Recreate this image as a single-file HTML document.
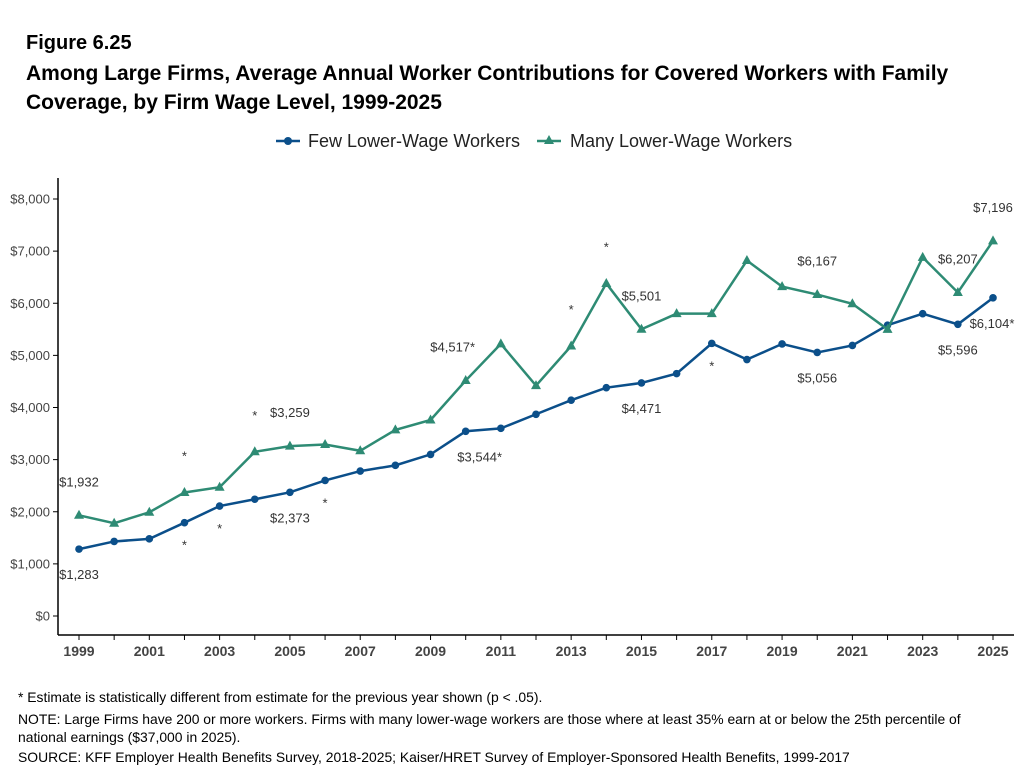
<!DOCTYPE html>
<html><head><meta charset="utf-8"><style>
body{margin:0;background:#fff;font-family:"Liberation Sans",Arial,sans-serif;}
#wrap{position:relative;width:1023px;height:770px;overflow:hidden;}
.t{position:absolute;left:26px;font-weight:bold;font-size:21px;color:#000;}
.note{position:absolute;left:18px;font-size:13.9px;color:#000;}
</style></head><body>
<div id="wrap">
<div class="t" style="top:32px;font-size:20px">Figure 6.25</div>
<div class="t" style="top:59px;line-height:29px;width:980px">Among Large Firms, Average Annual Worker Contributions for Covered Workers with Family<br>Coverage, by Firm Wage Level, 1999-2025</div>
<svg id="c" width="1023" height="770" style="position:absolute;left:0;top:0"></svg>
<div class="note" style="top:689px">* Estimate is statistically different from estimate for the previous year shown (p &lt; .05).</div>
<div class="note" style="top:710px;line-height:18px;width:1003px">NOTE: Large Firms have 200 or more workers. Firms with many lower-wage workers are those where at least 35% earn at or below the 25th percentile of<br>national earnings ($37,000 in 2025).</div>
<div class="note" style="top:749px">SOURCE: KFF Employer Health Benefits Survey, 2018-2025; Kaiser/HRET Survey of Employer-Sponsored Health Benefits, 1999-2017</div>
</div>
<script>
const years=[1999,2000,2001,2002,2003,2004,2005,2006,2007,2008,2009,2010,2011,2012,2013,2014,2015,2016,2017,2018,2019,2020,2021,2022,2023,2024,2025];
const few=[1283,1430,1480,1790,2110,2240,2373,2600,2780,2890,3100,3544,3600,3870,4140,4380,4471,4650,5230,4920,5220,5056,5190,5580,5800,5596,6104];
const many=[1932,1780,1990,2370,2470,3150,3259,3290,3170,3570,3760,4517,5220,4420,5180,6380,5501,5800,5800,6820,6320,6167,5990,5500,6880,6207,7196];
const yTicks=[0,1000,2000,3000,4000,5000,6000,7000,8000];
const xTickYears=[1999,2001,2003,2005,2007,2009,2011,2013,2015,2017,2019,2021,2023,2025];
const fewLabels=[[1999,"$1,283"],[2005,"$2,373"],[2010,"$3,544*"],[2015,"$4,471"],[2020,"$5,056"],[2024,"$5,596"],[2025,"$6,104*"]];
const manyLabels=[[1999,"$1,932"],[2005,"$3,259"],[2010,"$4,517*"],[2015,"$5,501"],[2020,"$6,167"],[2024,"$6,207"],[2025,"$7,196"]];
const fewStars=[2002,2003,2006,2017];
const manyStars=[2002,2004,2013,2014];
const svg=document.getElementById('c');const NS="http://www.w3.org/2000/svg";
const x=yr=>79+(yr-1999)*(993-79)/26;
const y=v=>616-v*(616-199)/8000;
function el(t,a,p){const e=document.createElementNS(NS,t);for(const k in a)e.setAttribute(k,a[k]);(p||svg).appendChild(e);return e;}
function txt(s,X,Y,a,extra){const e=el('text',Object.assign({x:X,y:Y,'font-size':13,fill:'#333','text-anchor':a||'middle','font-family':'Liberation Sans, Arial, sans-serif'},extra||{}));e.textContent=s;return e;}
let ax=el('line',{x1:58,y1:178,x2:58,y2:635,stroke:'#000','stroke-width':1.5});

let bx=el('line',{x1:58,y1:635,x2:1014,y2:635,stroke:'#000','stroke-width':1.5});

yTicks.forEach(v=>{el('line',{x1:53,x2:58,y1:y(v),y2:y(v),stroke:'#000'});
 const t=txt('$'+v.toLocaleString('en-US'),50,y(v)+4.5,'end',{fill:'#444'});
 });
years.forEach(yr=>el('line',{x1:x(yr),x2:x(yr),y1:635,y2:640,stroke:'#000'}));
xTickYears.forEach(yr=>{const t=txt(String(yr),x(yr),656,'middle',{'font-weight':'bold','font-size':14,fill:'#444'});
 });
function series(vals,col,name,tri){
 const g=el('g',{});
 el('polyline',{points:vals.map((v,i)=>x(years[i])+','+y(v)).join(' '),fill:'none',stroke:col,'stroke-width':2.5},g);
 vals.forEach((v,i)=>{const X=x(years[i]),Y=y(v);let m;
  if(tri)m=el('polygon',{points:`${X},${Y-5.5} ${X-5},${Y+3.5} ${X+5},${Y+3.5}`,fill:col},g);
  else m=el('circle',{cx:X,cy:Y,r:3.8,fill:col},g);
  });
}
series(few,'#0b4f8a','series-few-lower-wage',false);
series(many,'#2e8b74','series-many-lower-wage',true);
const fi=yr=>years.indexOf(yr);
fewLabels.forEach(([yr,s])=>{let X=x(yr),Y=y(few[fi(yr)])+30;
 if(yr===2010){X+=14;}
 if(yr===2025){X=x(yr)-1;}
 const t=txt(s,X,Y);});
manyLabels.forEach(([yr,s])=>{let X=x(yr),Y=y(many[fi(yr)])-29;
 if(yr===2010)X-=13;
 const t=txt(s,X,Y);});
fewStars.forEach(yr=>{const t=txt('*',x(yr),y(few[fi(yr)])+27);});
manyStars.forEach(yr=>{const t=txt('*',x(yr),y(many[fi(yr)])-32);});
const lg=el('g',{});
el('line',{x1:276,x2:300,y1:141,y2:141,stroke:'#0b4f8a','stroke-width':2.5},lg);
el('circle',{cx:288,cy:141,r:4,fill:'#0b4f8a'},lg);
let l1=txt('Few Lower-Wage Workers',308,147,'start',{'font-size':18,fill:'#222'});
el('line',{x1:537,x2:561,y1:141,y2:141,stroke:'#2e8b74','stroke-width':2.5},lg);
el('polygon',{points:'549,135 544,144 554,144',fill:'#2e8b74'},lg);
let l2=txt('Many Lower-Wage Workers',570,147,'start',{'font-size':18,fill:'#222'});
</script>
</body></html>
